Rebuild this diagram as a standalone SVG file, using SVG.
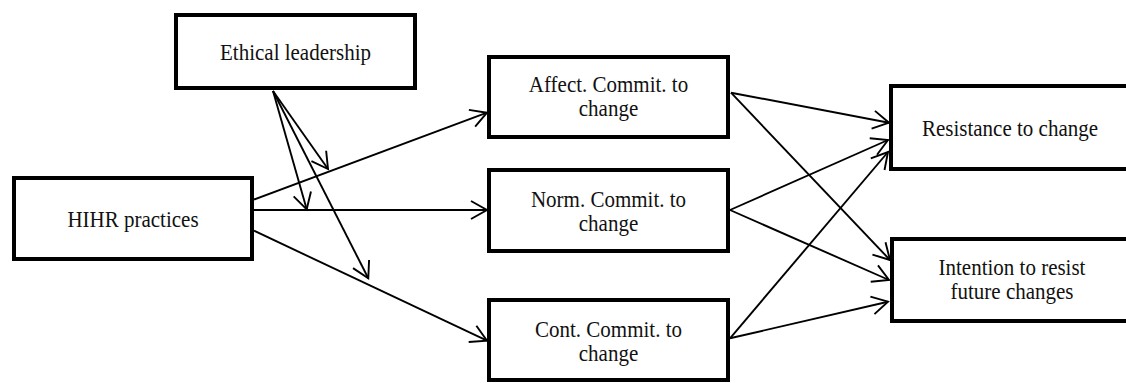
<svg xmlns="http://www.w3.org/2000/svg" width="1126" height="383" viewBox="0 0 1126 383">
<defs>
<style>
.box{fill:#fff;stroke:#000;stroke-width:4;stroke-linejoin:miter}
.lbl{font-family:"Liberation Serif","Times New Roman",serif;font-size:21px;fill:#111;text-anchor:middle}
.con{stroke:#000;stroke-width:1.9;fill:none;marker-end:url(#arr)}
</style>
<marker id="arr" markerUnits="userSpaceOnUse" markerWidth="40" markerHeight="40" viewBox="-20 -20 40 40" refX="0" refY="0" orient="auto">
<path d="M-16,-9 L0,0 L-16,9" fill="none" stroke="#000" stroke-width="1.9"/>
</marker>
</defs>
<rect width="1126" height="383" fill="#fff"/>
<g id="connectors">
<line class="con" x1="254" y1="199.5" x2="487" y2="112.7"/>
<line class="con" x1="254" y1="210" x2="487" y2="210"/>
<line class="con" x1="254" y1="230.7" x2="487" y2="340.7"/>
<line class="con" x1="273" y1="91" x2="328" y2="169"/>
<line class="con" x1="273" y1="91" x2="306.7" y2="209.3"/>
<line class="con" x1="273" y1="91" x2="368.3" y2="278.3"/>
<line class="con" x1="731" y1="92.7" x2="889" y2="122.7"/>
<line class="con" x1="731" y1="92.7" x2="890" y2="260"/>
<line class="con" x1="730" y1="210" x2="888" y2="140"/>
<line class="con" x1="730" y1="210" x2="889" y2="280"/>
<line class="con" x1="730" y1="338.3" x2="888" y2="152"/>
<line class="con" x1="730" y1="338.3" x2="888" y2="301.7"/>
</g>
<g id="ethical">
<rect class="box" x="176" y="15" width="239" height="73"/>
<text class="lbl" transform="translate(295.5,60) scale(1,1.08)">Ethical leadership</text>
</g>
<g id="hihr">
<rect class="box" x="14" y="178" width="238" height="81"/>
<text class="lbl" transform="translate(133,226.7) scale(1,1.08)">HIHR practices</text>
</g>
<g id="affect">
<rect class="box" x="489" y="57" width="239" height="80"/>
<text class="lbl" transform="translate(608.5,92) scale(1,1.08)"><tspan x="0" y="0">Affect. Commit. to</tspan><tspan x="0" dy="22.5">change</tspan></text>
</g>
<g id="norm">
<rect class="box" x="489" y="170" width="239" height="81"/>
<text class="lbl" transform="translate(608.5,206.5) scale(1,1.08)"><tspan x="0" y="0">Norm. Commit. to</tspan><tspan x="0" dy="22.5">change</tspan></text>
</g>
<g id="cont">
<rect class="box" x="489" y="300" width="239" height="80"/>
<text class="lbl" transform="translate(608.5,336.7) scale(1,1.08)"><tspan x="0" y="0">Cont. Commit. to</tspan><tspan x="0" dy="22.5">change</tspan></text>
</g>
<g id="resistance">
<rect class="box" x="891" y="86" width="260" height="83"/>
<text class="lbl" transform="translate(1010,136) scale(1,1.08)">Resistance to change</text>
</g>
<g id="intention">
<rect class="box" x="892" y="239" width="260" height="82"/>
<text class="lbl" transform="translate(1012,275) scale(1,1.08)"><tspan x="0" y="0">Intention to resist</tspan><tspan x="0" dy="22.3">future changes</tspan></text>
</g>
</svg>
